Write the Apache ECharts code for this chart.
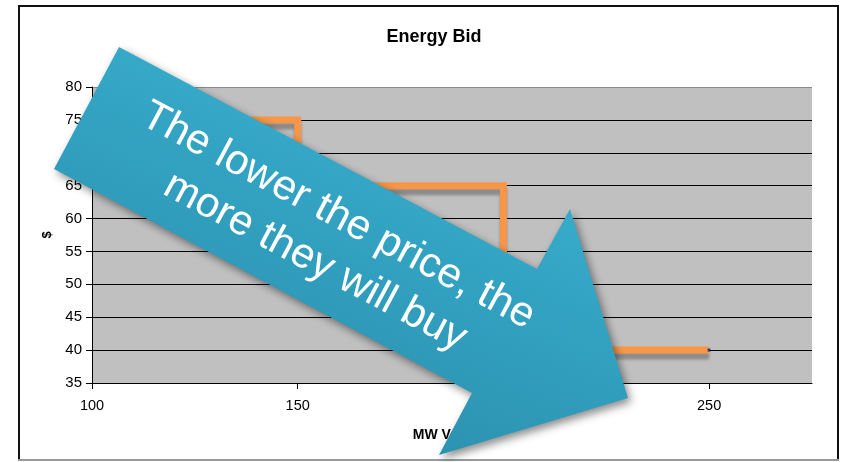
<!DOCTYPE html>
<html>
<head>
<meta charset="utf-8">
<script src="https://cdn.jsdelivr.net/npm/echarts@6/dist/echarts.min.js"></script>
<style>
  html, body { margin: 0; padding: 0; background: #fff; }
  #chart { width: 841px; height: 462px; }
</style>
</head>
<body>
<div id="chart"></div>
<script>
// Bid curve: MW volume vs price ($), as step vertices
const volumeMW = [100, 150, 150, 200, 200, 250];
const priceUSD = [75, 75, 65, 65, 40, 40];

// Axis ticks
const xTicks = [100, 150, 200, 250];
const yTicks = [35, 40, 45, 50, 55, 60, 65, 70, 75, 80];

const titleText = 'Energy Bid';
const xName = 'MW Volume';
const yName = '$';
const calloutLines = ['The lower the price, the', 'more they will buy'];

const font = '"Liberation Sans", Arial, sans-serif';
const chart = echarts.init(document.getElementById('chart'), null, { renderer: 'canvas' });

const bidPoints = volumeMW.map((v, i) => [v, priceUSD[i]]);

// Callout arrow outline (page pixels)
const arrowShape = [
  [119, 47], [537, 269], [570, 209], [628, 398],
  [439, 455], [472, 393], [54, 169]
];
const angle = -28 * Math.PI / 180;

// split lines: black, except the top edge which is grey
const splitColors = yTicks.map((t, i) => i === yTicks.length - 1 ? '#8a8a8a' : '#000');

chart.setOption({
  animation: false,
  backgroundColor: '#fff',
  title: {
    text: titleText,
    left: 429, top: 23, textAlign: 'center',
    textStyle: { fontFamily: font, fontSize: 18, fontWeight: 'bold', color: '#000' }
  },
  grid: {
    left: 92, right: 29, top: 87, bottom: 79,
    show: true, backgroundColor: '#c0c0c0', borderWidth: 0
  },
  xAxis: {
    type: 'value', min: 100, max: 275, interval: 50,
    name: xName, nameLocation: 'middle', nameGap: 45,
    nameTextStyle: { fontFamily: font, fontSize: 14, fontWeight: 'bold', color: '#000' },
    axisLine: { show: true, onZero: false, lineStyle: { color: '#000', width: 1 } },
    axisTick: { show: true, length: 6, customValues: xTicks, lineStyle: { color: '#000' } },
    axisLabel: { customValues: xTicks, margin: 15, fontFamily: font, fontSize: 14.5, color: '#000' },
    splitLine: { show: false }
  },
  yAxis: {
    type: 'value', min: 35, max: 80, interval: 5,
    name: yName, nameLocation: 'middle', nameGap: 38, nameRotate: 90,
    nameTextStyle: { fontFamily: font, fontSize: 13, fontWeight: 'bold', color: '#000' },
    axisLine: { show: true, lineStyle: { color: '#000', width: 1 } },
    axisTick: { show: true, length: 6, lineStyle: { color: '#000' } },
    axisLabel: { margin: 10, fontFamily: font, fontSize: 15, color: '#000' },
    splitLine: { show: true, lineStyle: { color: splitColors, width: 1 } }
  },
  series: [
    {
      type: 'line', data: bidPoints, showSymbol: false, z: 3,
      lineStyle: {
        color: '#f79646', width: 7, cap: 'butt', join: 'miter',
        shadowColor: 'rgba(0,0,0,0.28)', shadowBlur: 3, shadowOffsetX: 0, shadowOffsetY: 6
      }
    },
    {
      type: 'scatter', data: [bidPoints[bidPoints.length - 1]], z: 4,
      symbol: 'rect', symbolSize: 3,
      itemStyle: { color: '#1c1c80' }
    }
  ],
  graphic: [
    {
      type: 'rect', z: 50, silent: true,
      shape: { x: 19, y: 6, width: 819, height: 454 },
      style: { fill: 'none', stroke: '#111', lineWidth: 2 }
    },
    {
      type: 'line', z: 51, silent: true,
      shape: { x1: 18, y1: 460, x2: 839, y2: 460 },
      style: { stroke: '#999', lineWidth: 2 }
    },
    {
      type: 'polygon', z: 100, silent: true,
      shape: { points: arrowShape },
      style: {
        fill: new echarts.graphic.LinearGradient(0.65, 0, 0.35, 1, [
          { offset: 0, color: '#3ab3d3' },
          { offset: 1, color: '#2a8cab' }
        ]),
        shadowColor: 'rgba(0,0,0,0.45)', shadowBlur: 8, shadowOffsetX: 3, shadowOffsetY: 4
      }
    },
    {
      type: 'text', z: 101, silent: true,
      x: 338, y: 216, rotation: angle,
      style: {
        text: calloutLines[0], fill: '#fff',
        font: '42px ' + font, align: 'center', verticalAlign: 'middle'
      }
    },
    {
      type: 'text', z: 101, silent: true,
      x: 315, y: 262, rotation: angle,
      style: {
        text: calloutLines[1], fill: '#fff',
        font: '42px ' + font, align: 'center', verticalAlign: 'middle'
      }
    }
  ]
});
</script>
</body>
</html>
